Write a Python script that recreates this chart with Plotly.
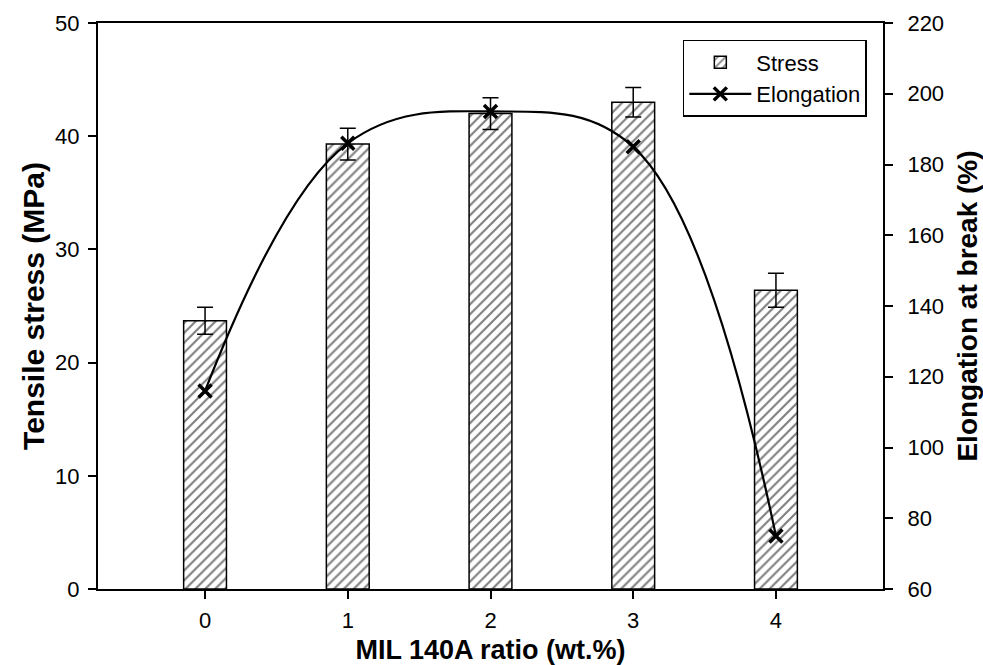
import plotly.graph_objects as go

ratios = [0, 1, 2, 3, 4]
tick_labels = ["0", "1", "2", "3", "4"]
stress = [23.7, 39.3, 42.0, 43.0, 26.4]
stress_err = [1.2, 1.4, 1.4, 1.3, 1.5]
elongation = [116, 186, 195, 185, 75]

fig = go.Figure()
fig.add_trace(go.Bar(
    x=ratios, y=stress, name="Stress", width=0.3,
    marker=dict(color="white", line=dict(color="black", width=1.5),
                pattern=dict(shape="/", fgcolor="black", bgcolor="white", size=7, solidity=0.3)),
    error_y=dict(type="data", array=stress_err, visible=True, color="black", thickness=1.5, width=8),
))
fig.add_trace(go.Scatter(
    x=ratios, y=elongation, name="Elongation", yaxis="y2",
    mode="lines+markers",
    line=dict(color="black", width=2.2, shape="spline", smoothing=1.1),
    marker=dict(symbol="x-thin", size=13, line=dict(color="black", width=3.5), color="black"),
))

font = "Liberation Sans, Arial, sans-serif"
tickfont = dict(family=font, size=22, color="black")
fig.update_layout(
    width=983, height=665,
    margin=dict(l=98, r=100, t=23, b=76),
    paper_bgcolor="white", plot_bgcolor="white",
    font=dict(family=font, size=22, color="black"),
    showlegend=True,
    legend=dict(x=0.745, y=0.97, xanchor="left", yanchor="top",
                bordercolor="black", borderwidth=1.5, bgcolor="white",
                font=dict(size=22), itemwidth=62,
                entrywidth=155),
    xaxis=dict(range=[-0.75, 4.75], tickvals=ratios, ticktext=tick_labels, tickfont=tickfont,
               showline=True, linecolor="black", linewidth=2, mirror=True,
               ticks="outside", ticklen=8, tickwidth=1.5, tickcolor="black",
               ticklabelstandoff=3, automargin=False,
               showgrid=False, zeroline=False,
               title=dict(text="<b>MIL 140A ratio (wt.%)</b>", font=dict(size=27), standoff=12)),
    yaxis=dict(range=[0, 50], tickvals=[0, 10, 20, 30, 40, 50], tickfont=tickfont,
               showline=True, linecolor="black", linewidth=2,
               ticks="outside", ticklen=8, tickwidth=1.5, tickcolor="black",
               ticklabelstandoff=4, automargin=False,
               showgrid=False, zeroline=False,
               title=dict(text="<b>Tensile stress (MPa)</b>", font=dict(size=30), standoff=2)),
    yaxis2=dict(range=[60, 220], tickvals=[60, 80, 100, 120, 140, 160, 180, 200, 220], tickfont=tickfont,
                overlaying="y", side="right",
                showline=True, linecolor="black", linewidth=2,
                ticks="outside", ticklen=8, tickwidth=1.5, tickcolor="black",
                ticklabelstandoff=10, automargin=False,
                showgrid=False, zeroline=False,
                title=dict(text="<b>Elongation at break (%)</b>", font=dict(size=28), standoff=14)),
)

fig.write_html("out.html")
